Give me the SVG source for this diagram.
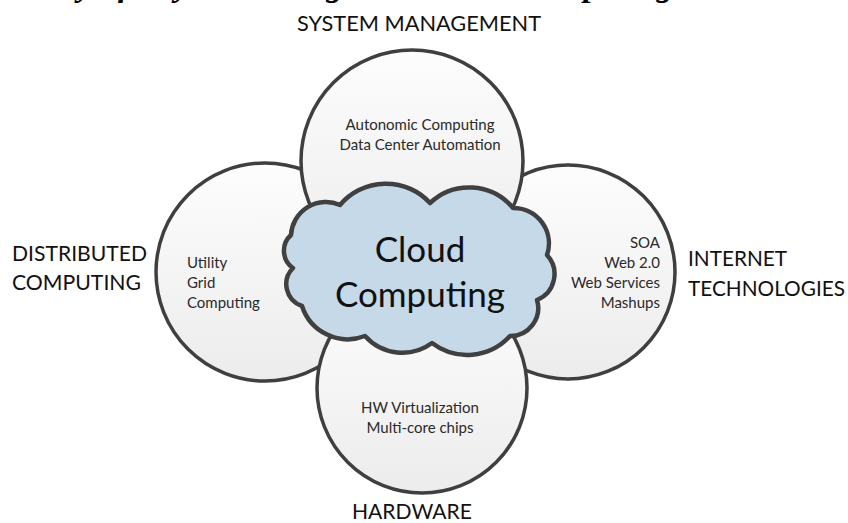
<svg xmlns="http://www.w3.org/2000/svg" width="848" height="523" viewBox="0 0 848 523">
  <defs>
    <linearGradient id="circFill" x1="0" y1="0" x2="0" y2="1">
      <stop offset="0" stop-color="#fdfdfd"/>
      <stop offset="1" stop-color="#ececec"/>
    </linearGradient>
    <style>
      .circle { fill: url(#circFill); stroke: #3f3f3f; stroke-width: 3.5; }
      .cloud { fill: #c6d9e9; stroke: #404040; stroke-width: 4.5; stroke-linejoin: round; }
      .label { font-family: Lato, "Open Sans", sans-serif; font-size: 22px; fill: #111; }
      .small { font-family: Lato, "Open Sans", sans-serif; font-size: 15px; fill: #2a2a2a; }
      .big { font-family: Lato, "Open Sans", sans-serif; font-size: 35px; fill: #111; }
      .title { font-family: "Liberation Serif", "Times New Roman", serif; font-size: 33.7px; font-weight: bold; font-style: italic; fill: #000; }
    </style>
  </defs>
  <rect width="848" height="523" fill="#ffffff"/>

  <text class="title" x="-42" y="-4">Summary of Key Technologies in Cloud Computing</text>

  <g id="connectors"></g>

  <g id="node-distributed">
    <circle class="circle" cx="265" cy="272" r="109"/>
    <text class="small" x="187" y="268">Utility</text>
    <text class="small" x="187" y="288">Grid</text>
    <text class="small" x="187" y="308">Computing</text>
  </g>

  <g id="node-internet">
    <circle class="circle" cx="568" cy="272" r="107"/>
    <text class="small" x="660" y="248" text-anchor="end">SOA</text>
    <text class="small" x="660" y="268" text-anchor="end">Web 2.0</text>
    <text class="small" x="660" y="288" text-anchor="end">Web Services</text>
    <text class="small" x="660" y="308" text-anchor="end">Mashups</text>
  </g>

  <g id="node-system">
    <circle class="circle" cx="412" cy="161" r="111"/>
    <text class="small" x="420" y="130" text-anchor="middle">Autonomic Computing</text>
    <text class="small" x="420" y="150" text-anchor="middle">Data Center Automation</text>
  </g>

  <g id="node-hardware">
    <circle class="circle" cx="422" cy="388" r="105"/>
    <text class="small" x="420" y="413" text-anchor="middle">HW Virtualization</text>
    <text class="small" x="420" y="433" text-anchor="middle">Multi-core chips</text>
  </g>

  <g id="node-cloud">
    <path class="cloud" d="M291,235 A35,35 0 0 1 340,205 A60,60 0 0 1 430,203 A57,57 0 0 1 513,208 A35.5,35.5 0 0 1 547,255 A28,28 0 0 1 537,300 A28,28 0 0 1 510,336 A58,58 0 0 1 432,343 A50,50 0 0 1 365,336 A48,48 0 0 1 302,306 A23,23 0 0 1 293,268 A21,21 0 0 1 291,235 Z"/>
    <text class="big" x="420" y="262" text-anchor="middle">Cloud</text>
    <text class="big" x="420" y="307" text-anchor="middle">Computing</text>
  </g>

  <g id="labels">
    <text class="label" x="297" y="31" textLength="244" lengthAdjust="spacingAndGlyphs">SYSTEM MANAGEMENT</text>
    <text class="label" x="12" y="261" textLength="135" lengthAdjust="spacingAndGlyphs">DISTRIBUTED</text>
    <text class="label" x="12" y="290" textLength="129" lengthAdjust="spacingAndGlyphs">COMPUTING</text>
    <text class="label" x="688" y="266" textLength="99" lengthAdjust="spacingAndGlyphs">INTERNET</text>
    <text class="label" x="688" y="296" textLength="157" lengthAdjust="spacingAndGlyphs">TECHNOLOGIES</text>
    <text class="label" x="352" y="519" textLength="120" lengthAdjust="spacingAndGlyphs">HARDWARE</text>
  </g>
</svg>
